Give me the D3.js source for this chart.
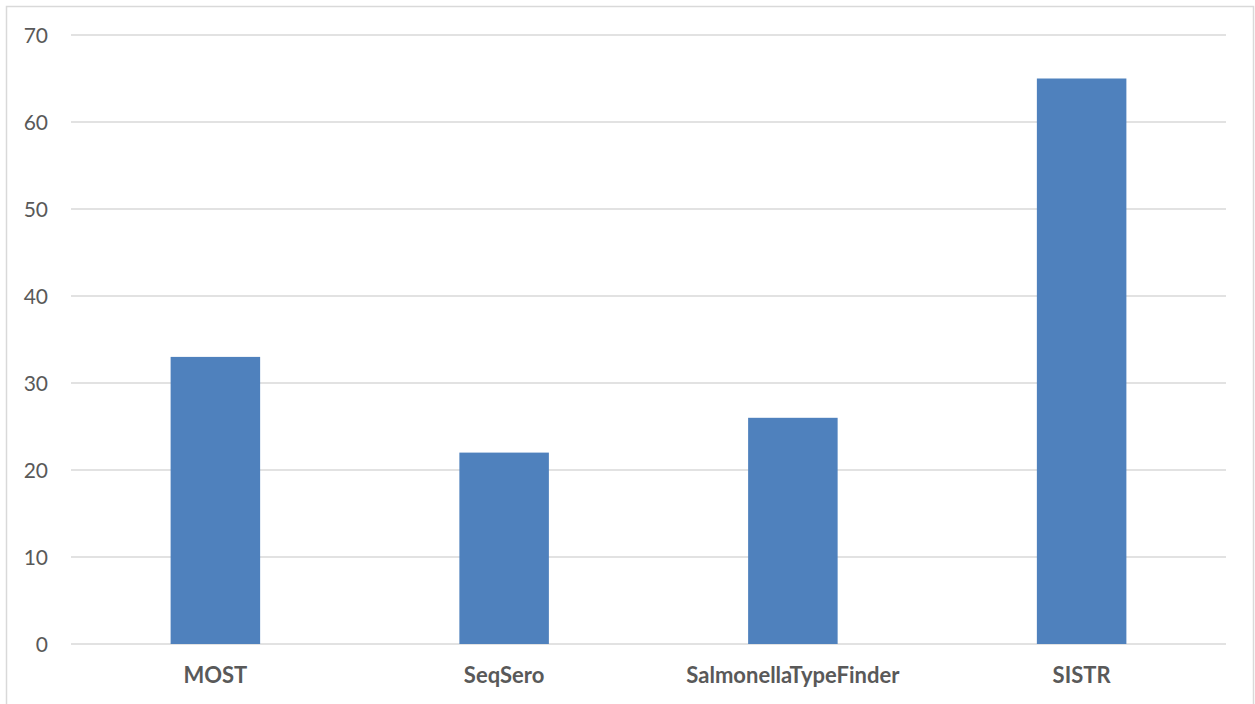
<!DOCTYPE html>
<html>
<head>
<meta charset="utf-8">
<script src="https://cdn.jsdelivr.net/npm/d3@7"></script>
<style>
  html, body { margin: 0; padding: 0; background: #fff; }
  #chart { width: 1255px; height: 704px; }
</style>
</head>
<body>
<div id="chart"></div>
<script>
// Данные
const categories = ["MOST", "SeqSero", "SalmonellaTypeFinder", "SISTR"];
const values = [33, 22, 26, 65];
const yTicks = [0, 10, 20, 30, 40, 50, 60, 70];

const width = 1255;
const height = 704;
const margin = { left: 71, right: 29, top: 35, bottom: 60 };

const svg = d3.select("#chart")
    .append("svg")
    .attr("width", width)
    .attr("height", height);

// Рамка
svg.append("rect")
    .attr("x", 6.5)
    .attr("y", 6.5)
    .attr("width", 1247)
    .attr("height", 710)
    .attr("fill", "#fff")
    .attr("stroke", "#d9d9d9")
    .attr("stroke-width", 1.5);

const x = d3.scaleBand()
    .domain(categories)
    .range([margin.left, width - margin.right])
    .paddingInner(0.69)
    .paddingOuter(0.345);

const y = d3.scaleLinear()
    .domain([0, 70])
    .range([644, 35]);

// Сетка
svg.append("g")
    .selectAll("line")
    .data(yTicks)
    .enter()
    .append("line")
    .attr("x1", margin.left)
    .attr("x2", width - margin.right)
    .attr("y1", d => y(d))
    .attr("y2", d => y(d))
    .attr("stroke", "#d9d9d9")
    .attr("stroke-width", 1.5);

// Подписи оси Y
svg.append("g")
    .selectAll("text")
    .data(yTicks)
    .enter()
    .append("text")
    .attr("x", 48)
    .attr("y", d => y(d))
    .attr("dy", "0.36em")
    .attr("text-anchor", "end")
    .attr("fill", "#595959")
    .style("font-family", "Lato, 'Open Sans', sans-serif")
    .style("font-size", "21px")
    .text(d => d);

// Столбцы
svg.append("g")
    .selectAll("rect")
    .data(categories)
    .enter()
    .append("rect")
    .attr("x", d => x(d))
    .attr("width", x.bandwidth())
    .attr("y", (d, i) => y(values[i]))
    .attr("height", (d, i) => y(0) - y(values[i]))
    .attr("fill", "#4f81bd");

// Подписи категорий
svg.append("g")
    .selectAll("text")
    .data(categories)
    .enter()
    .append("text")
    .attr("x", d => x(d) + x.bandwidth() / 2)
    .attr("y", 675)
    .attr("dy", "0.36em")
    .attr("text-anchor", "middle")
    .attr("fill", "#595959")
    .style("font-family", "Lato, 'Open Sans', sans-serif")
    .style("font-size", "22px")
    .style("font-weight", "bold")
    .text(d => d);
</script>
</body>
</html>
